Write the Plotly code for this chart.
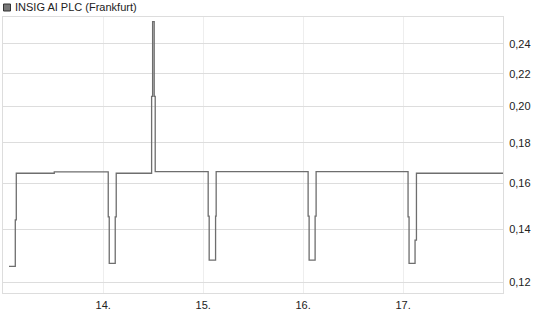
import plotly.graph_objects as go
import math

# time in days (day-of-month with fraction), price in EUR
times = [13.057, 13.12, 13.13, 13.51, 14.05, 14.06, 14.12, 14.13, 14.484, 14.494,
         14.51, 14.52, 15.05, 15.06, 15.124, 15.13, 16.05, 16.06, 16.12, 16.13,
         17.05, 17.06, 17.12, 17.134, 18.0]
prices = [0.1256, 0.1438, 0.1647, 0.1654, 0.1451, 0.1267, 0.1451, 0.1647, 0.206, 0.2562,
          0.206, 0.1655, 0.1454, 0.1279, 0.1454, 0.1655, 0.1454, 0.1279, 0.1454, 0.1655,
          0.1451, 0.1267, 0.1356, 0.1647, 0.1647]

x_tickvals = [14, 15, 16, 17]
x_ticktext = ["14.", "15.", "16.", "17."]
y_tickvals = [0.12, 0.14, 0.16, 0.18, 0.20, 0.22, 0.24]
y_ticktext = ["0,12", "0,14", "0,16", "0,18", "0,20", "0,22", "0,24"]
title = "INSIG AI PLC (Frankfurt)"

W, H = 545, 327
L, R, T, B = 3, 42, 17, 34
pw, ph = W - L - R, H - T - B

fig = go.Figure()
fig.add_trace(go.Scatter(x=times, y=prices, mode="lines", line_shape="hv",
                         line=dict(color="#6e6e6e", width=1.3), hoverinfo="skip",
                         showlegend=False))

font = dict(family="Liberation Sans, Arial, sans-serif", size=11, color="#222")

fig.update_layout(
    width=W, height=H, margin=dict(l=L, r=R, t=T, b=B),
    paper_bgcolor="white", plot_bgcolor="white", font=font,
    separators=",.",
    xaxis=dict(range=[12.997, 18.0], tickvals=x_tickvals, ticktext=x_ticktext,
               showgrid=True, gridcolor="#eeeeee", gridwidth=1, zeroline=False,
               showline=True, linecolor="#dddddd", mirror=True,
               ticks="outside", ticklen=2, tickcolor="rgba(0,0,0,0)",
               tickfont=font),
    yaxis=dict(type="log", range=[-0.93473, -0.58567], tickvals=y_tickvals,
               ticktext=y_ticktext, side="right",
               showgrid=True, gridcolor="#dddddd", gridwidth=1, zeroline=False,
               showline=True, linecolor="#dddddd", mirror=True,
               ticks="outside", ticklen=3, tickcolor="rgba(0,0,0,0)",
               tickfont=font),
)

# title legend box
fig.add_shape(type="rect", xref="paper", yref="paper",
              x0=(3.5 - L) / pw, x1=(10.5 - L) / pw,
              y0=(H - B - 11) / ph, y1=(H - B - 4) / ph,
              line=dict(color="#333", width=1), fillcolor="#777")
fig.add_annotation(text=title, xref="paper", yref="paper",
                   x=(13 - L) / pw, y=(H - B - 7.5) / ph, xanchor="left",
                   yanchor="middle", showarrow=False, font=font)

fig.write_html("out.html")
